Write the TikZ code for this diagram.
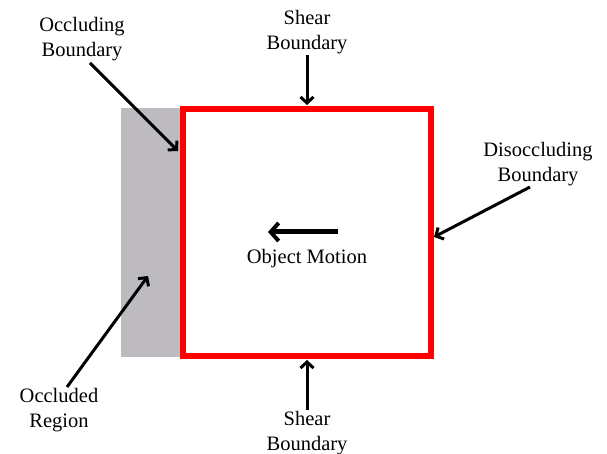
\documentclass[tikz,border=0pt]{standalone}
\usepackage{fontspec}
\setmainfont{Liberation Serif}
\usetikzlibrary{arrows.meta}
\definecolor{occgray}{RGB}{189,187,191}
\definecolor{boxred}{RGB}{255,0,0}
\begin{document}
\begin{tikzpicture}[x=1pt,y=-1pt,
  lbl/.style={align=center,inner sep=0pt,font=\fontsize{20.5}{25}\selectfont},
  ptr/.style={line width=3pt,-{Straight Barb[length=6pt,width=13pt,line width=3pt]}},
  bigptr/.style={line width=5pt,-{Straight Barb[length=8pt,width=18pt,line width=4pt]}}]
\useasboundingbox (0,0) rectangle (607,454);
\fill[white] (0,0) rectangle (607,454);
% occluded region
\fill[occgray] (121,108) rectangle (180,357);
% object
\draw[boxred,line width=6pt] (183,109) rectangle (431,356);
% labels
\node[lbl] (occb) at (82,39) {Occluding\\Boundary};
\node[lbl] (sheart) at (307,32) {Shear\\Boundary};
\node[lbl] (disocc) at (538,164) {Disoccluding\\Boundary};
\node[lbl] (motion) at (307,259) {Object Motion};
\node[lbl] (occr) at (59,410) {Occluded\\Region};
\node[lbl] (shearb) at (307,433) {Shear\\Boundary};
% arrow ends
\coordinate (a1s) at (90,63);   \coordinate (a1e) at (178,151);
\coordinate (a2s) at (307,55);  \coordinate (a2e) at (307,105);
\coordinate (a3s) at (530,187); \coordinate (a3e) at (434,237);
\coordinate (a4s) at (67,387);  \coordinate (a4e) at (148,276);
\coordinate (a5s) at (307,410); \coordinate (a5e) at (307,360);
\coordinate (m1s) at (338,232); \coordinate (m1e) at (268,232);
\draw[ptr] (a1s) -- (a1e);
\draw[ptr] (a2s) -- (a2e);
\draw[ptr] (a3s) -- (a3e);
\draw[ptr] (a4s) -- (a4e);
\draw[ptr] (a5s) -- (a5e);
\draw[bigptr] (m1s) -- (m1e);
\end{tikzpicture}
\end{document}
